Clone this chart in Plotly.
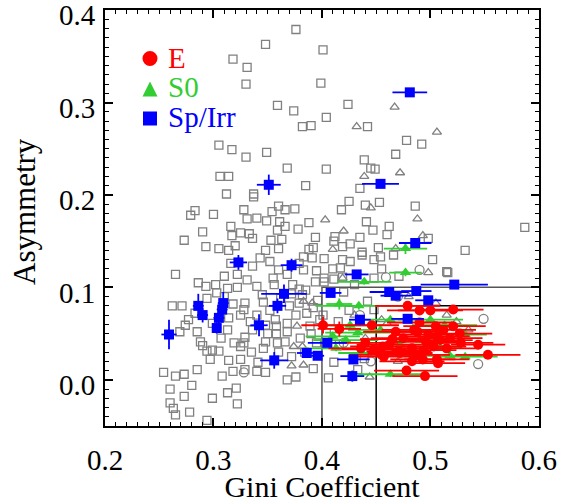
import plotly.graph_objects as go

# ---------------- data ----------------
# Gray comparison sample: open squares (Gini, Asymmetry)
GSQ_X = [0.376,0.348,0.401,0.318,0.331,0.330,0.399,0.359,0.374,0.404,0.382,0.390,0.424,0.305,0.317,0.330,0.349,0.368,0.404,
         0.442,0.478,0.492,0.468,0.439,0.445,0.449,
         0.306,0.314,0.312,0.337,0.337,0.283,0.279,0.300,0.328,0.331,0.349,0.354,0.360,0.366,0.418,0.425,0.388,0.361,0.316,0.325,
         0.317,0.273,0.293,0.305,0.314,0.320,0.333,0.336,0.359,0.353,0.363,0.366,0.378,0.360,0.394,0.392,0.383,0.402,0.412,0.419,
         0.265,0.286,0.293,0.316,0.336,0.343,0.352,0.360,0.368,0.379,0.383,0.391,0.310,0.302,0.313,0.331,0.340,0.322,0.373,0.379,
         0.394,0.402,0.417,0.262,0.271,0.294,0.329,0.346,0.379,0.396,
         0.322,0.388,
         0.435,0.440,0.453,0.441,0.462,0.447,0.460,0.411,0.435,0.426,0.419,0.426,0.437,0.448,0.454,0.452,0.419,0.471,
         0.486,0.437,0.466,0.498,0.502,0.515,0.532,0.587,
         0.274,0.269,0.285,0.290,0.299,0.305,0.297,0.314,0.254,0.265,0.273,0.285,0.280,0.260,0.260,0.263,0.265,0.273,0.278,0.299,
         0.313,0.321,0.322,0.294,0.308,0.318,0.329,0.325,0.340,0.348,0.368,0.376,0.406,0.294,0.325,0.328,0.319,0.329,0.348,0.346,
         0.341,0.359,0.358,0.358,0.357,0.368,0.376,0.366,0.325,0.334,0.336,0.328,0.314,0.299,0.288,0.348,0.350,0.368,
         0.402,0.411,0.448,0.382,0.386,0.401,0.442,0.448,0.389,0.404,0.416,0.439,0.411,0.433,0.516,
         0.345,0.352,0.362,0.370,0.385,0.392,0.398,0.372,0.356,0.340,0.390,0.380,0.395,0.384,0.372,0.360,0.392,0.355,0.310,
         0.318,0.303,0.283,0.277,0.307,0.313,0.335,0.420,0.430,0.425,0.415,0.410,0.395,0.348,0.340,0.375,0.290,0.385,0.455]
GSQ_Y = [0.379,0.363,0.357,0.347,0.338,0.320,0.321,0.297,0.291,0.284,0.274,0.275,0.298,0.254,0.249,0.241,0.246,0.229,0.228,
         0.274,0.259,0.255,0.244,0.238,0.229,0.228,
         0.220,0.220,0.201,0.201,0.198,0.183,0.178,0.179,0.184,0.174,0.172,0.182,0.188,0.184,0.184,0.193,0.170,0.171,0.166,0.159,
         0.156,0.151,0.144,0.142,0.140,0.145,0.158,0.153,0.162,0.151,0.152,0.166,0.163,0.142,0.154,0.143,0.133,0.131,0.155,0.144,
         0.114,0.105,0.101,0.126,0.123,0.132,0.128,0.119,0.114,0.126,0.119,0.132,0.112,0.103,0.099,0.108,0.101,0.100,0.103,0.098,
         0.106,0.110,0.121,0.080,0.080,0.088,0.083,0.084,0.083,0.086,
         0.114,0.141,
         0.207,0.189,0.192,0.171,0.166,0.162,0.157,0.150,0.154,0.147,0.130,0.128,0.135,0.130,0.133,0.143,0.111,0.112,
         0.188,0.138,0.135,0.153,0.130,0.117,0.140,0.165,
         0.059,0.052,0.052,0.037,0.032,0.031,0.022,0.021,0.008,0.004,0.006,0.011,-0.006,-0.010,-0.025,-0.031,-0.038,-0.018,-0.035,-0.020,
         -0.014,-0.009,-0.026,-0.044,0.004,0.009,0.011,0.022,0.009,0.008,0.000,0.003,0.002,0.031,0.036,0.040,0.040,0.046,0.041,0.034,
         0.019,0.040,0.050,0.058,0.065,0.061,0.070,0.041,0.070,0.063,0.054,0.076,0.067,0.061,0.041,0.059,0.050,0.052,
         0.106,0.109,0.110,0.092,0.072,0.070,0.085,0.076,0.058,0.051,0.038,0.023,0.019,0.011,0.116,
         0.092,0.075,0.088,0.080,0.097,0.078,0.065,0.093,0.103,0.070,0.050,0.045,0.040,0.030,0.025,0.030,0.012,0.110,0.090,
         0.082,0.094,0.072,0.065,0.045,0.054,0.030,0.095,0.103,0.075,0.063,0.120,0.118,0.140,0.175,0.185,0.160,0.210,0.120]

# Gray open triangles
GTR_X = [0.467,0.432,0.506,0.472,0.439,0.445,0.488,0.420,0.493,0.498,0.505,0.403,0.410,0.391,0.377,0.374,0.382,0.383,
         0.419,0.383,0.524,0.535,0.444,0.460,0.372,0.468,0.430,0.455,0.440,0.480,0.515,0.470]
GTR_Y = [0.295,0.274,0.268,0.224,0.220,0.186,0.174,0.161,0.156,0.116,0.083,0.173,0.141,0.083,0.058,0.036,0.036,0.016,
         0.110,0.085,0.063,0.054,0.003,0.061,0.015,0.142,0.070,0.065,0.045,0.090,0.070,0.020]

# Gray open circles
GCI_X = [0.549,0.544,0.490,0.459,0.328,0.420,0.445,0.470,0.435]
GCI_Y = [0.066,0.017,0.119,0.111,0.008,0.040,0.020,0.090,0.070]

# E galaxies (red filled circles)
E_X = [0.401,0.416,0.446,0.479,0.490,0.500,0.521,0.468,0.485,0.488,0.505,0.521,0.512,0.498,0.506,0.509,0.518,0.528,0.544,
       0.448,0.456,0.462,0.471,0.483,0.494,0.503,0.515,0.457,0.483,0.493,0.506,0.507,0.553,0.478,0.495,0.455,0.472,0.475,
       0.490,0.465,0.440,0.527,0.496,0.488,0.436]
E_Y = [0.059,0.055,0.059,0.080,0.075,0.075,0.076,0.052,0.054,0.052,0.058,0.058,0.054,0.049,0.047,0.043,0.045,0.040,0.038,
       0.033,0.036,0.038,0.031,0.034,0.032,0.036,0.034,0.025,0.020,0.022,0.022,0.018,0.027,0.010,0.004,0.027,0.029,0.045,
       0.062,0.044,0.040,0.050,0.041,0.027,0.034]
E_XERR = [0.020,0.020,0.025,0.030,0.030,0.030,0.028,0.030,0.030,0.025,0.030,0.030,0.030,0.030,0.030,0.030,0.030,0.030,0.025,
          0.030,0.030,0.030,0.030,0.030,0.030,0.030,0.030,0.030,0.030,0.030,0.030,0.025,0.030,0.030,0.030,0.030,0.030,0.030,
          0.030,0.030,0.030,0.030,0.030,0.030,0.030]
E_YERR = [0.009,0.008,0.004,0.003,0.003,0.003,0.003,0.003,0.004,0.003,0.003,0.003,0.003,0.003,0.003,0.003,0.003,0.003,0.003,
          0.003,0.003,0.003,0.003,0.003,0.003,0.003,0.003,0.003,0.003,0.003,0.003,0.003,0.003,0.003,0.003,0.003,0.003,0.003,
          0.003,0.003,0.003,0.003,0.003,0.003,0.003]

# S0 galaxies (green filled triangles)
S0_X = [0.477,0.477,0.439,0.434,0.416,0.426,0.433,0.410,0.413,0.463,0.532,0.513,0.532,0.518,0.454,0.472,0.491,0.463,0.500,
        0.481,0.445,0.509,0.422]
S0_Y = [0.142,0.116,0.106,0.080,0.082,0.059,0.051,0.047,0.034,0.006,0.025,0.059,0.049,0.026,0.054,0.038,0.043,0.065,0.065,
        0.027,0.029,0.035,0.043]
S0_XERR = [0.020,0.015,0.025,0.040,0.012,0.030,0.030,0.025,0.030,0.030,0.030,0.030,0.020,0.030,0.030,0.030,0.030,0.030,0.030,
           0.030,0.030,0.020,0.030]
S0_YERR = [0.006,0.004,0.003,0.004,0.006,0.004,0.003,0.003,0.003,0.003,0.003,0.003,0.003,0.003,0.003,0.003,0.003,0.003,0.003,
           0.003,0.003,0.003,0.003]

# Sp/Irr galaxies (blue filled squares)
SP_X = [0.481,0.351,0.454,0.323,0.372,0.486,0.365,0.359,0.286,0.309,0.290,0.308,0.305,0.303,0.259,0.342,0.356,0.386,0.396,
        0.405,0.428,0.429,0.432,0.408,0.462,0.468,0.487,0.498,0.435,0.479,0.522]
SP_Y = [0.311,0.211,0.212,0.127,0.124,0.148,0.093,0.080,0.080,0.083,0.070,0.076,0.067,0.056,0.049,0.059,0.021,0.029,0.026,
        0.040,0.004,0.022,0.114,0.094,0.095,0.091,0.096,0.086,0.065,0.066,0.103]
SP_XERR = [0.016,0.011,0.017,0.008,0.010,0.015,0.021,0.008,0.005,0.005,0.005,0.005,0.005,0.004,0.007,0.008,0.013,0.009,0.006,
           0.018,0.011,0.015,0.011,0.010,0.018,0.014,0.014,0.012,0.010,0.015,0.031]
SP_YERR = [0.003,0.011,0.003,0.008,0.007,0.003,0.010,0.008,0.013,0.012,0.008,0.010,0.006,0.006,0.016,0.012,0.009,0.005,0.004,
           0.004,0.006,0.005,0.003,0.003,0.003,0.004,0.003,0.004,0.005,0.004,0.002]

# Selection boxes
BOX1_X = [0.40, 0.40, 0.60]
BOX1_Y = [-0.05, 0.10, 0.10]
BOX2_X = [0.45, 0.45, 0.60]
BOX2_Y = [-0.05, 0.08, 0.08]

RED = "#ff0000"
GREEN = "rgb(50,205,50)"
BLUE = "#0000ff"
GRAY = "rgb(128,128,128)"
FONT = "Liberation Serif"

# ---------------- figure ----------------
fig = go.Figure()

fig.add_trace(go.Scatter(x=GSQ_X, y=GSQ_Y, mode="markers",
                         marker=dict(symbol="square-open", size=8, color=GRAY, line=dict(width=1.3, color=GRAY))))
fig.add_trace(go.Scatter(x=GTR_X, y=GTR_Y, mode="markers",
                         marker=dict(symbol="triangle-up-open", size=8, color=GRAY, line=dict(width=1.3, color=GRAY))))
fig.add_trace(go.Scatter(x=GCI_X, y=GCI_Y, mode="markers",
                         marker=dict(symbol="circle-open", size=9, color=GRAY, line=dict(width=1.3, color=GRAY))))

fig.add_trace(go.Scatter(x=BOX1_X, y=BOX1_Y, mode="lines", line=dict(color="#555555", width=1.5)))
fig.add_trace(go.Scatter(x=BOX2_X, y=BOX2_Y, mode="lines", line=dict(color="#000000", width=1.5)))

fig.add_trace(go.Scatter(x=S0_X, y=S0_Y, mode="markers",
                         error_x=dict(type="data", array=S0_XERR, color=GREEN, thickness=1.8, width=0),
                         error_y=dict(type="data", array=S0_YERR, color=GREEN, thickness=1.8, width=0),
                         marker=dict(symbol="triangle-up", size=10, color=GREEN, line=dict(width=0))))
fig.add_trace(go.Scatter(x=E_X, y=E_Y, mode="markers",
                         error_x=dict(type="data", array=E_XERR, color=RED, thickness=1.8, width=0),
                         error_y=dict(type="data", array=E_YERR, color=RED, thickness=1.8, width=0),
                         marker=dict(symbol="circle", size=10, color=RED, line=dict(width=0))))
fig.add_trace(go.Scatter(x=SP_X, y=SP_Y, mode="markers",
                         error_x=dict(type="data", array=SP_XERR, color=BLUE, thickness=1.8, width=0),
                         error_y=dict(type="data", array=SP_YERR, color=BLUE, thickness=1.8, width=0),
                         marker=dict(symbol="square", size=10, color=BLUE, line=dict(width=0))))

W, H = 563, 503
# plot area in page pixels
L, R, T, B = 105, 539, 10, 426
PW, PH = R - L, B - T
def px(xp):
    return (xp - L) / PW
def py(yp):
    return (B - yp) / PH

# legend keys (shapes) and labels
shapes = []
cx = 150
shapes.append(dict(type="circle", xref="paper", yref="paper", x0=px(cx - 7.5), x1=px(cx + 7.5),
                   y0=py(58.5 + 7.5), y1=py(58.5 - 7.5), fillcolor=RED, line=dict(width=0)))
tri = "M {:.5f} {:.5f} L {:.5f} {:.5f} L {:.5f} {:.5f} Z".format(px(cx - 7.5), py(96.5), px(cx + 7.5), py(96.5), px(cx), py(81.5))
shapes.append(dict(type="path", xref="paper", yref="paper", path=tri, fillcolor=GREEN, line=dict(width=0)))
shapes.append(dict(type="rect", xref="paper", yref="paper", x0=px(cx - 7), x1=px(cx + 7),
                   y0=py(118.5 + 7), y1=py(118.5 - 7), fillcolor=BLUE, line=dict(width=0)))

annotations = []
for label, col, yc in [("E", RED, 58.5), ("S0", GREEN, 87.5), ("Sp/Irr", BLUE, 116.5)]:
    annotations.append(dict(text=label, xref="paper", yref="paper", x=px(166), y=py(yc), xanchor="left",
                            yanchor="middle", showarrow=False, font=dict(family=FONT, size=29, color=col)))
# y-axis title
annotations.append(dict(text="Asymmetry", xref="paper", yref="paper", x=px(24), y=py(212), textangle=-90,
                        xanchor="center", yanchor="middle", showarrow=False,
                        font=dict(family=FONT, size=31, color="black")))

axis_common = dict(showline=True, linewidth=2, linecolor="black", mirror="allticks",
                   ticks="inside", ticklen=8, tickwidth=1.5, tickcolor="black",
                   showgrid=False, zeroline=False, tickformat=".1f", ticklabeloverflow="allow",
                   tickfont=dict(family=FONT, size=29, color="black"))

fig.update_layout(
    width=W, height=H,
    margin=dict(l=L, r=W - R, t=T, b=H - B, autoexpand=False),
    paper_bgcolor="white", plot_bgcolor="white",
    showlegend=False,
    xaxis=dict(range=[0.2, 0.6001], tickmode="linear", tick0=0.2, dtick=0.1, ticklabelstandoff=7,
               minor=dict(ticks="inside", ticklen=4, tickwidth=1.2, tickcolor="black", tick0=0.2, dtick=0.01, showgrid=False),
               title=dict(text="Gini Coefficient", font=dict(family=FONT, size=30, color="black"), standoff=5),
               **axis_common),
    yaxis=dict(range=[-0.05, 0.4001], tickmode="linear", tick0=0.0, dtick=0.1, ticklabelstandoff=2, ticklabelshift=5,
               minor=dict(ticks="inside", ticklen=4, tickwidth=1.2, tickcolor="black", tick0=0.0, dtick=0.01, showgrid=False),
               **axis_common),
    shapes=shapes,
    annotations=annotations,
)

# remove the browser's default 8px body margin so the figure sits at the page origin
fig.write_html("out.html", config={"displayModeBar": False},
               post_script="document.body.style.margin='0px';")
